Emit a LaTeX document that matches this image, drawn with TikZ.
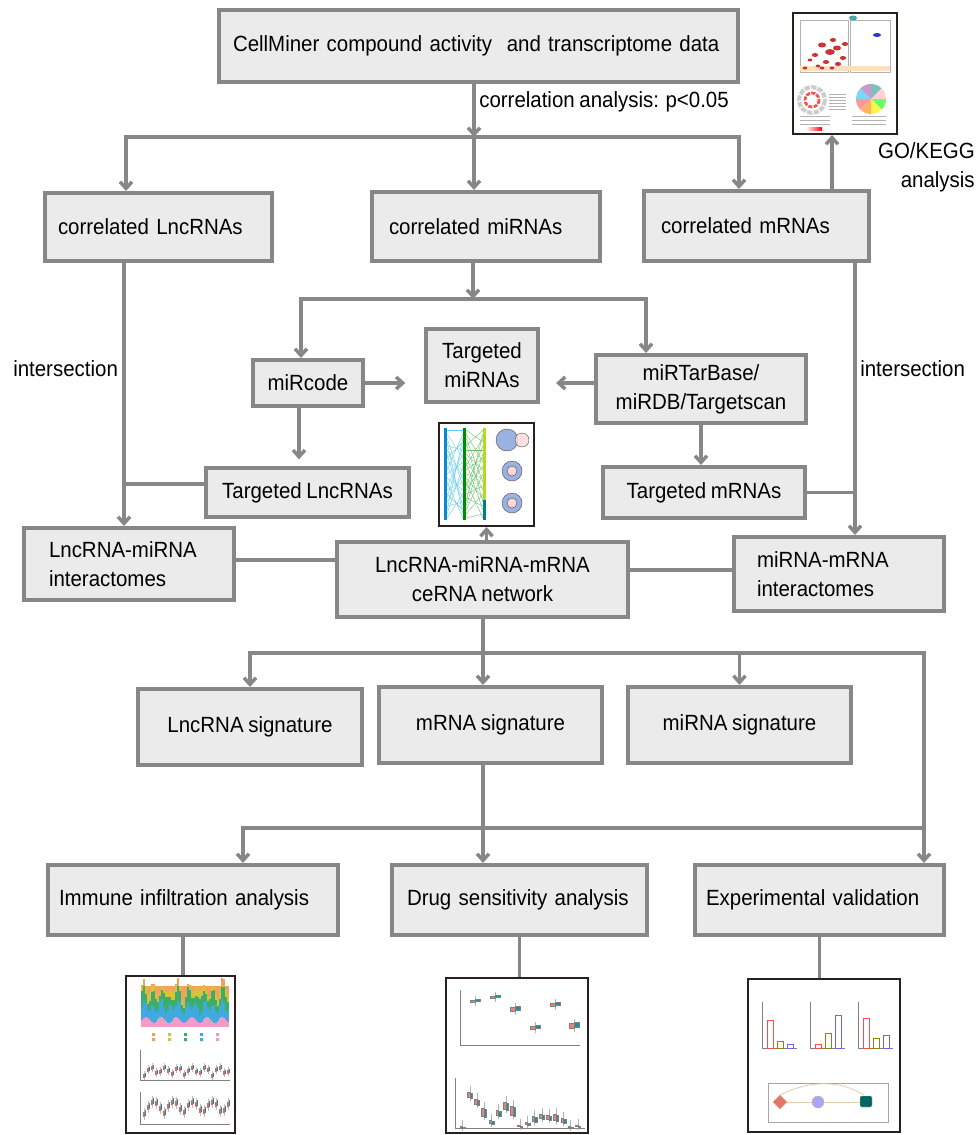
\documentclass[tikz,border=0pt]{standalone}
\usepackage{fontspec}
\setmainfont{Liberation Sans}[FakeStretch=0.93]
\usetikzlibrary{arrows.meta, positioning}
\newcommand{\pxu}{0.75pt}
\newcommand{\tightsp}{\spaceskip=3.5pt plus 1pt\relax}
\definecolor{boxfill}{HTML}{EBEBEB}
\definecolor{boxline}{HTML}{878787}
\definecolor{framecol}{HTML}{2A211E}
\definecolor{lpink}{HTML}{F49AC8}
\definecolor{lblue}{HTML}{3FA9E0}
\definecolor{lgreen}{HTML}{3DAE6A}
\definecolor{lyellow}{HTML}{D8C23A}
\definecolor{lorange}{HTML}{F2A25C}
\definecolor{bred}{HTML}{E0675A}
\definecolor{bteal}{HTML}{1C8FA8}

\begin{document}
\begin{tikzpicture}[x=0.75pt, y=-0.75pt, font=\fontsize{16.5}{21.75}\selectfont\tightsp,
box/.style={rectangle, draw=boxline, fill=boxfill, line width=3pt, inner sep=0pt},
lbox/.style={box, align=left},
cbox/.style={box, align=center},
link/.style={draw=boxline, line width=2.6pt},
arr/.style={link, -{Straight Barb[length=5pt,width=9pt]}},
thumb/.style={rectangle, draw=framecol, line width=1.5pt, fill=white, inner sep=0pt},
lbl/.style={inner sep=0pt},
thin/.style={line width=0.3pt}]
\useasboundingbox (0,0) rectangle (978,1135);

\node[lbox, text width=491*\pxu, inner xsep=14*\pxu, minimum height=72*\pxu] (src) at (478.5,46) {CellMiner compound activity~ and transcriptome data};
\node[lbl, anchor=west] (corr) at (479,102) {correlation analysis: p<0.05};

\node[lbox, text width=201*\pxu, inner xsep=13*\pxu, minimum height=68*\pxu] (lnc) at (158.5,227) {correlated LncRNAs};
\node[lbox, text width=194*\pxu, inner xsep=17*\pxu, minimum height=69*\pxu] (mir) at (486,226.5) {correlated miRNAs};
\node[lbox, text width=191*\pxu, inner xsep=17*\pxu, minimum height=70*\pxu] (mrna) at (756.5,226) {correlated mRNAs};

\node[thumb, minimum width=104*\pxu, minimum height=121*\pxu] (go) at (845,73.5) {};
\node[lbl, align=right, anchor=east] (golbl) at (975,167.5) {GO/KEGG\\analysis};

\node[cbox, minimum width=110*\pxu, minimum height=46*\pxu] (mircode) at (308,383) {miRcode};
\node[cbox, minimum width=112*\pxu, minimum height=73*\pxu] (tmir) at (482,365.5) {Targeted\\miRNAs};
\node[cbox, minimum width=210*\pxu, minimum height=68*\pxu] (mtb) at (701,389) {miRTarBase/\\miRDB/Targetscan};
\node[cbox, minimum width=203*\pxu, minimum height=49*\pxu] (tlnc) at (307.5,492.5) {Targeted LncRNAs};
\node[cbox, minimum width=202*\pxu, minimum height=51*\pxu] (tmrna) at (704,492.5) {Targeted mRNAs};
\node[lbl, anchor=west] (isec1) at (13,369) {intersection};
\node[lbl, anchor=west] (isec2) at (860,369) {intersection};

\node[thumb, minimum width=95*\pxu, minimum height=103*\pxu] (net) at (486.5,474.5) {};

\node[lbox, text width=160*\pxu, inner xsep=25*\pxu, minimum height=72*\pxu] (lmi) at (129,564) {LncRNA-miRNA\\interactomes};
\node[cbox, minimum width=291*\pxu, minimum height=75*\pxu] (cerna) at (482.5,579.5) {LncRNA-miRNA-mRNA\\ceRNA network};
\node[lbox, text width=164*\pxu, inner xsep=23*\pxu, minimum height=74*\pxu] (mm) at (839,574) {miRNA-mRNA\\interactomes};

\node[cbox, minimum width=224*\pxu, minimum height=76*\pxu] (lsig) at (250,727) {LncRNA signature};
\node[cbox, minimum width=223*\pxu, minimum height=76*\pxu] (msig) at (490.5,725) {mRNA signature};
\node[cbox, minimum width=223*\pxu, minimum height=76*\pxu] (isig) at (739.5,725) {miRNA signature};

\node[lbox, text width=268*\pxu, inner xsep=11*\pxu, minimum height=70*\pxu] (immune) at (193,900) {Immune infiltration analysis};
\node[lbox, text width=225*\pxu, inner xsep=15*\pxu, minimum height=70*\pxu] (drug) at (519.5,900) {Drug sensitivity analysis};
\node[lbox, text width=227*\pxu, inner xsep=11*\pxu, minimum height=70*\pxu] (exp) at (819.5,900) {Experimental validation};

\node[thumb, minimum width=109*\pxu, minimum height=157*\pxu] (imm) at (180.5,1054.5) {};
\node[thumb, minimum width=142*\pxu, minimum height=155*\pxu] (drg) at (517,1055.5) {};
\node[thumb, minimum width=152*\pxu, minimum height=153*\pxu] (val) at (824,1055.5) {};

\coordinate (s1) at (474,137);
\coordinate (a1) at (126,137);
\coordinate (a2) at (739,137);
\draw[arr] (src.south -| s1) -- (s1);
\draw[arr] (s1) -| (lnc.north -| a1);
\draw[arr] (s1) -- (s1 |- mir.north);
\draw[arr] (s1) -| (mrna.north -| a2);
\coordinate (g1) at (832,0);
\draw[arr] (mrna.north -| g1) -- (go.south -| g1);

\coordinate (v1) at (124,484);
\draw[arr] (lnc.south -| v1) -- (lmi.north -| v1);
\draw[link] (tlnc.west |- v1) -- (v1);
\coordinate (s2) at (473,299);
\coordinate (b1) at (301,299);
\coordinate (b2) at (646,299);
\draw[arr] (mir.south -| s2) -- (s2);
\draw[arr] (s2) -| (mircode.north -| b1);
\draw[arr] (s2) -| (mtb.north -| b2);
\draw[arr, shorten >=14pt] (mircode.east) -- (tmir.west |- mircode.east);
\draw[arr, shorten >=12pt] (mtb.west |- mircode.east) -- (tmir.east |- mircode.east);
\coordinate (b3) at (299,0);
\draw[arr, shorten >=5pt] (mircode.south -| b3) -- (tlnc.north -| b3);
\draw[arr] (mtb.south) -- (mtb.south |- tmrna.north);
\coordinate (v2) at (855,493);
\draw[link] (tmrna.east) -- (tmrna.east -| v2);
\draw[arr] (mrna.south -| v2) -- (mm.north -| v2);

\coordinate (c1) at (0,560);
\coordinate (c2) at (0,570);
\draw[link] (lmi.east |- c1) -- (cerna.west |- c1);
\draw[link] (cerna.east |- c2) -- (mm.west |- c2);
\draw[arr] (cerna.north -| net.south) -- (net.south);

\coordinate (s3) at (483,653);
\coordinate (v3) at (924,0);
\draw[link] (cerna.south -| s3) -- (s3);
\draw[arr] (s3) -| (lsig.north);
\draw[arr] (s3) -- (s3 |- msig.north);
\draw[arr] (s3) -| (isig.north);
\draw[arr] (s3) -| (exp.north -| v3);
\coordinate (s4) at (483,828);
\coordinate (v4) at (243,0);
\draw[link] (msig.south -| s4) -- (s4);
\draw[arr] (s4) -| (immune.north -| v4);
\draw[arr] (s4) -- (s4 |- drug.north);
\draw[link] (s4) -- (s4 -| v3);
\coordinate (e1) at (183,0);
\draw[link] (immune.south -| e1) -- (imm.north -| e1);
\draw[link] (drug.south) -- (drug.south |- drg.north);
\draw[link] (exp.south) -- (exp.south |- val.north);

% GO/KEGG
\draw[gray!60, thin] (800,20) rectangle (848,72) (850,20) rectangle (890,72);
\fill[orange!25] (800,66) rectangle (890,71);
\foreach \x/\y/\r in {805/68/1.5, 815/55/2, 822/45/2.5, 830/52/3, 837/48/2.5, 843/58/2, 826/62/2, 838/64/2, 818/66/1.5, 810/60/1.5, 845/44/2, 833/40/2, 822/68/1.5, 832/68/1.5}
  \fill[red!75!black!80] (\x,\y) ellipse ({1.6*\r} and \r);
\fill[teal!70] (853,18) ellipse (4 and 2.5);
\fill[blue!60!gray] (877,35) ellipse (4 and 2);
\draw[gray!40, line width=3pt, dash pattern=on 4pt off 1pt] (812,100) circle (13);
\draw[red!70, line width=2pt, dash pattern=on 3pt off 1pt] (812,100) circle (7);
\foreach \y in {94,97,...,109} \draw[gray!60, thin] (829,\y) -- (846,\y);
\foreach \a/\c in {0/green!60, 45/yellow!70, 90/orange!60, 135/red!40, 180/cyan!50, 225/violet!40, 270/teal!50, 315/pink!70}
  \fill[\c] (871,99) -- ++(\a:15) arc[start angle=\a, end angle=\a+45, radius=15] -- cycle;
\foreach \y in {116,120,124} {\draw[gray!60, thin] (800,\y) -- (830,\y); \draw[gray!60, thin] (852,\y) -- (886,\y);}
\shade[left color=white, right color=red] (806,127) rectangle (822,130);

% network
\foreach \i in {0,...,22} {
  \pgfmathsetmacro\ya{430+4*\i}
  \pgfmathsetmacro\yb{430+4*mod(\i*7,23)}
  \pgfmathsetmacro\yc{430+4*mod(\i*5+3,23)}
  \draw[cyan!60, thin] (447,\ya) -- (463,\yb);
  \draw[green!60!black!60, thin] (466,\ya) -- (483,\yc);
}
\fill[cyan!70!blue] (444,428) rectangle (447,520);
\fill[green!55!black] (463,428) rectangle (466,520);
\fill[yellow!70!green] (483,428) rectangle (486,500);
\fill[teal] (483,500) rectangle (486,520);
\filldraw[fill=cyan!45!blue!40, draw=black!70, thin] (507,440) circle (11);
\filldraw[fill=pink!60, draw=black!70, thin, fill opacity=0.8] (522,440) circle (7);
\foreach \y in {471,503} {
  \filldraw[fill=cyan!45!blue!40, draw=black!70, thin] (512,\y) circle (10);
  \filldraw[fill=pink!60, draw=black!70, thin] (512,\y) circle (5);
}

% immune
\foreach \i in {0,...,43} {
  \pgfmathsetmacro\x{141+2*\i}
  \pgfmathsetmacro\ba{1020-3*sin(\i*47)}
  \pgfmathsetmacro\bb{\ba-13-5*sin(\i*83)}
  \pgfmathsetmacro\bc{\bb-11-5*cos(\i*61)}
  \pgfmathsetmacro\bd{\bc-6-3*sin(\i*29)}
  \fill[lpink] (\x,1027) rectangle (\x+2,\ba);
  \fill[lblue] (\x,\ba) rectangle (\x+2,\bb);
  \fill[lgreen] (\x,\bb) rectangle (\x+2,\bc);
  \fill[lyellow] (\x,\bc) rectangle (\x+2,\bd);
  \fill[lorange] (\x,\bd) rectangle (\x+2,986);
}
\foreach \x/\c in {152/lorange, 168/lyellow, 184/lgreen, 200/lblue, 216/lpink}
  \fill[\c] (\x,1033) rectangle (\x+3,1036) (\x,1038) rectangle (\x+3,1041);
\draw[gray, thin] (140,1050) -- (140,1080) -- (230,1080) (140,1092) -- (140,1124) -- (230,1124);
\foreach \i in {0,...,21} {
  \pgfmathsetmacro\x{143+4*\i}
  \pgfmathsetmacro\ya{1074-8*abs(sin(\i*53))}
  \pgfmathsetmacro\yb{1112-12*abs(sin(\i*37))}
  \draw[gray!50, thin] (\x+1.5,\ya-3) -- (\x+1.5,\ya+6) (\x+1.5,\yb-4) -- (\x+1.5,\yb+8);
  \fill[bred] (\x,\ya) rectangle (\x+1.5,\ya+4);
  \fill[bteal] (\x+1.5,\ya-1) rectangle (\x+3,\ya+3);
  \fill[bred] (\x,\yb) rectangle (\x+1.5,\yb+5);
  \fill[bteal] (\x+1.5,\yb-2) rectangle (\x+3,\yb+4);
}

% drug
\draw[gray, thin] (460,990) -- (460,1045) -- (580,1045) (455,1078) -- (455,1128) -- (585,1128);
\foreach \x/\y/\h in {475/1000/2, 495/996/2, 515/1007/4, 535/1026/3, 555/1003/3, 574/1023/5} {
  \draw[gray!60, thin] (\x,\y-4) -- (\x,\y+\h+4);
  \filldraw[fill=bred!80, draw=gray, thin] (\x-5,\y) rectangle (\x,\y+\h);
  \filldraw[fill=bteal, draw=gray, thin] (\x,\y-1) rectangle (\x+5,\y+\h-1);
}
\foreach \i/\y/\h in {0/1126/1, 1/1092/5, 2/1099/5, 3/1108/8, 4/1120/3, 5/1110/5, 6/1102/7, 7/1106/9, 8/1125/1, 9/1122/2, 10/1116/5, 11/1114/4, 12/1115/4, 13/1114/6, 14/1118/4, 15/1126/1, 16/1125/1} {
  \pgfmathsetmacro\x{460+7.2*\i}
  \draw[gray!60, thin] (\x+2.5,\y-6) -- (\x+2.5,\y+\h+4);
  \filldraw[fill=bred!80, draw=gray, thin] (\x,\y) rectangle (\x+2.5,\y+\h);
  \filldraw[fill=bteal, draw=gray, thin] (\x+2.5,\y+1) rectangle (\x+5,\y+\h+1);
}

% validation
\foreach \x in {762,810,858} \draw[gray, thin] (\x,1002) -- (\x,1048) -- (\x+35,1048);
\foreach \x/\ra/\rb/\rc in {762/1020/1041/1044, 810/1044/1033/1015, 858/1018/1038/1035} {
  \draw[red!70, line width=0.6pt] (\x+5,1048) rectangle (\x+11,\ra);
  \draw[olive, line width=0.6pt] (\x+15,1048) rectangle (\x+21,\rb);
  \draw[blue!60, line width=0.6pt] (\x+25,1048) rectangle (\x+31,\rc);
}
\draw[gray!70, thin] (768,1083) rectangle (888,1122);
\draw[brown!40, line width=0.6pt] (787,1102) -- (812,1102) (824,1102) -- (860,1102);
\draw[brown!40, line width=0.6pt] (780,1095) .. controls (810,1080) and (840,1080) .. (864,1095);
\filldraw[fill=bred!90, draw=brown!60, thin] (780,1095) -- (787,1102) -- (780,1109) -- (773,1102) -- cycle;
\filldraw[fill=blue!35, draw=brown!60, thin] (818,1102) circle (6);
\filldraw[fill=teal!80!black, draw=brown!60, thin, rounded corners=1pt] (860,1096) rectangle (872,1107);

\end{tikzpicture}
\end{document}
